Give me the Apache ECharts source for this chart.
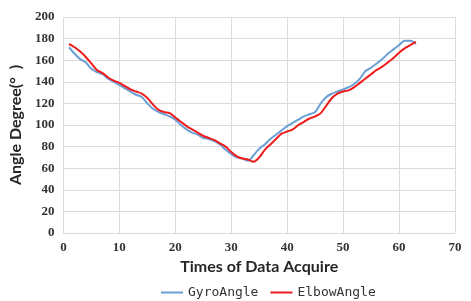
<!DOCTYPE html>
<html>
<head>
<meta charset="utf-8">
<script src="https://cdn.jsdelivr.net/npm/echarts@6/dist/echarts.min.js"></script>
<style>
  html, body { margin: 0; padding: 0; background: #fff; }
  #chart { width: 471px; height: 301px; }
</style>
</head>
<body>
<div id="chart"></div>
<script>
// 陀螺仪角度与肘关节角度对比曲线

const samples = Array.from({ length: 63 }, (_, i) => i + 1)

const gyroAngle = [
  172, 166, 161, 158, 152, 149, 147, 143, 140, 137,
  134, 131, 128, 126, 120, 115, 112, 110, 108, 105,
  100, 96, 93, 91, 88, 87, 85, 82, 77, 73,
  70, 69, 67, 72, 78, 82, 87, 91, 95, 99,
  102, 105, 108, 110, 112, 120, 126, 129, 131, 133,
  135, 138, 143, 150, 153, 157, 161, 166, 170, 174,
  178, 178, 175,
]

const elbowAngle = [
  175, 172, 168, 163, 157, 151, 148, 144, 141, 139,
  136, 133, 131, 129, 125, 119, 114, 112, 111, 107,
  103, 99, 96, 93, 90, 88, 86, 83, 80, 75,
  71, 69, 68, 66, 70, 77, 82, 87, 92, 94,
  96, 100, 103, 106, 108, 111, 118, 125, 129, 131,
  132, 135, 139, 143, 147, 151, 154, 158, 162, 167,
  171, 174, 177,
]

const seriesNames = ['GyroAngle', 'ElbowAngle']
const seriesColors = ['#6a9fd6', '#ee1c1c']

const tickFont = {
  color: '#333',
  fontFamily: 'Liberation Serif',
  fontWeight: 'bold',
  fontSize: 13,
}
const titleFont = {
  color: '#262626',
  fontFamily: 'Lato',
  fontWeight: 'bold',
  fontSize: 16,
}

function buildOption() {
  const data = [gyroAngle, elbowAngle]
  return {
    animation: false,
    backgroundColor: '#fff',
    grid: { left: 59, right: 16, top: 17, bottom: 68 },
    legend: {
      top: 281,
      left: 156,
      icon: 'rect',
      itemWidth: 22,
      itemHeight: 2,
      itemGap: 12,
      textStyle: { fontFamily: 'DejaVu Sans Mono', fontSize: 13, color: '#333' },
      data: seriesNames,
    },
    xAxis: {
      type: 'value',
      min: 0,
      max: 70,
      interval: 10,
      name: 'Times of Data Acquire',
      nameLocation: 'middle',
      nameGap: 26,
      nameTextStyle: titleFont,
      axisLine: { show: true, lineStyle: { color: '#d9d9d9' } },
      axisTick: { show: false },
      axisLabel: { ...tickFont, margin: 8 },
      splitLine: { lineStyle: { color: '#dcdcdc' } },
    },
    yAxis: {
      type: 'value',
      min: 0,
      max: 200,
      interval: 20,
      name: 'Angle Degree(°  )',
      nameLocation: 'middle',
      nameGap: 36,
      nameTextStyle: titleFont,
      axisLine: { show: false },
      axisTick: { show: false },
      axisLabel: { ...tickFont, margin: 9 },
      splitLine: { lineStyle: { color: '#dcdcdc' } },
    },
    series: seriesNames.map((name, k) => ({
      name,
      type: 'line',
      data: samples.map((x, i) => [x, data[k][i]]),
      symbol: 'none',
      smooth: 0.3,
      color: seriesColors[k],
      lineStyle: { width: 2, color: seriesColors[k] },
    })),
  }
}

const chart = echarts.init(document.getElementById('chart'))
chart.setOption(buildOption())
</script>
</body>
</html>
